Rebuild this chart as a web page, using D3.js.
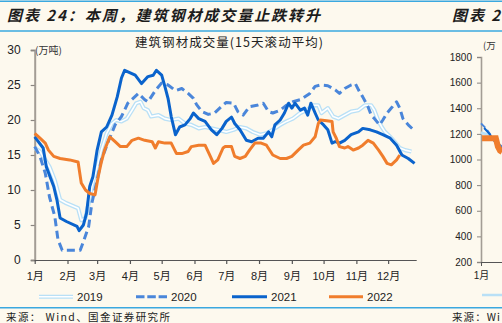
<!DOCTYPE html>
<html><head><meta charset="utf-8">
<script src="https://cdn.jsdelivr.net/npm/d3@7"></script>
<style>
html,body{margin:0;padding:0;background:#FDF9EE;}
svg{display:block}
</style></head><body>
<svg id="c" width="502" height="323"></svg>
<script>
// ---------- data ----------
const monthLabels = ["1月","2月","3月","4月","5月","6月","7月","8月","9月","10月","11月","12月"];
const monthStartDays = [0,31,59,90,120,151,181,212,243,273,304,334];
const yTicks = [0,5,10,15,20,25,30];
const seriesNames = ["2019","2020","2021","2022"];

const days2019 = [0,5,10,14,19,24,30,41,44,48,51,54,59,63,68,73,77,82,87,92,96,100,103,107,110,117,123,129,136,142,148,155,161,167,173,181,188,194,200,206,213,219,225,232,238,244,251,257,263,268,271,277,282,287,293,299,306,312,318,321,325,328,331,336,340,345,350,356];
const vals2019 = [16,15.5,14.3,13.3,11.4,8.6,8.1,7.4,5.7,6,8.1,10.5,13.3,15.7,18.1,19.5,20,19.8,20.2,21.4,22.4,22.6,21.7,21.4,20.5,20.7,20.2,20,20.2,19.5,19.3,18.8,19,18.8,18.6,18.3,18.6,19,18.8,18.3,17.9,18.1,18.6,19.3,19.8,20.2,21,21.4,22.1,22.1,21,21.7,20.5,20.2,20.7,21.2,21.4,22.1,22.1,21.4,19.8,19,18.3,17.6,16.9,16,15.7,15.5];

const days2020 = [0,5,10,14,19,22,26,43,46,51,54,59,63,70,76,82,88,98,104,107,114,120,126,133,139,145,150,153,158,164,170,177,181,188,192,197,203,210,216,221,225,232,238,244,251,255,260,265,270,277,284,288,293,299,303,306,310,315,318,321,326,329,333,337,342,345,348,353,358];
const vals2020 = [16.2,14.8,12.4,9,6.2,2.9,1.4,1.4,2.6,4.8,8.1,11.4,14.3,17.1,19.3,20.5,22.4,23.8,22.9,22.6,24.2,25.3,25,24.2,24.5,23.8,23.1,22.2,21.2,20.8,21,22,22.5,22.4,21.2,20.7,21.9,22.1,22.4,21.2,21,21.4,22.1,22.6,22.9,23.3,23.8,24.8,25,24.9,24.3,23.8,24.5,25,25.2,24.3,23.3,21.9,20.7,20.2,19.3,20,21,21.7,22.6,21.7,20.2,19.3,18.6];

const days2021 = [0,8,11,18,21,24,30,40,42,46,49,52,55,59,63,68,73,78,82,85,95,101,107,112,115,120,123,126,129,133,137,142,147,150,155,161,167,172,177,181,186,189,194,200,205,211,216,221,224,227,232,236,240,243,246,251,255,258,261,265,268,273,277,281,284,288,293,299,306,310,317,323,329,336,342,347,353,359];
const vals2021 = [17.6,16,13.3,10.5,8.6,6,5.5,4.8,4.2,5,6.7,10.5,11.9,15.7,18.3,19,20.7,23.3,26,27.1,26.4,25.2,26.2,26.4,27.1,26.4,24.8,23.1,20.5,17.9,19,19.3,20.2,21,20.2,19.8,18.6,17.9,18.8,19.8,20.4,19.5,18.6,17.1,16.9,17.4,17.4,18.3,17.6,19.3,20,21,22.4,21.7,22.4,21.4,21.7,20.7,22.4,21,20,19.3,18.6,16.7,16.9,16.7,17.1,17.9,18.3,18.8,18.6,18.3,17.9,17.4,16.4,15,14.5,13.8];

const days2022 = [0,5,10,13,18,24,33,41,44,48,52,57,60,63,66,71,76,81,87,92,98,104,111,114,117,123,129,134,139,145,148,155,161,166,169,173,178,180,186,189,194,199,203,208,214,219,225,232,238,243,249,254,260,265,268,270,276,281,282,285,288,293,296,301,306,310,315,320,325,329,333,337,342,345];
const vals2022 = [18.1,17.4,16.7,15.7,14.8,14.5,14.3,14,11,10,9.5,9.3,11.9,14,15.7,17.6,16.9,16.2,16.2,17.1,17.4,17.1,16.9,16,16.9,16.7,16.7,15.2,15.2,15.5,16.2,16.4,16.4,14.8,13.8,14.3,16,16.2,16.2,14.8,14.5,14.8,15.7,16.7,16.7,16.4,15,14.5,14.5,14.8,15.7,16.4,16.7,17.6,19.5,20,19.9,19.8,18.3,17.4,16.2,16,16.2,15.7,16,16.4,17.1,16.7,15.7,14.8,13.8,13.6,14.3,15];

// partial neighbouring chart (cut off at the right edge)
const rightYTicks = [200,400,600,800,1000,1200,1400,1600,1800];
const rightDaysA = [0,5,10,15,20];      const rightValsA = [1282,1240,1180,1130,1100];   // dashed blue
const rightDaysB = [3,8,12,17,20];      const rightValsB = [1246,1200,1150,1110,1080];   // solid blue
const rightDaysC = [1,14,16,18,20];     const rightValsC = [1165,1165,1100,1070,1060];   // orange
const rightDaysD = [0,4,8];             const rightValsD = [1210,1200,1190];             // light blue

// ---------- drawing ----------
const BG = "#FDF9EE";
const C19 = "#B9E0F6", C20 = "#4A86DA", C21 = "#0A63CC", C22 = "#F07D2C";
const SEP = "#3AA8DF";
const FONT = "'Liberation Sans','Noto Sans CJK SC',sans-serif";
const CJK = "'Noto Sans CJK SC',sans-serif";

const svg = d3.select("#c");
svg.append("rect").attr("width",502).attr("height",323).attr("fill",BG);

// separators
[1.2, 31, 307.7].forEach(y=>{
  svg.append("line").attr("x1",0).attr("x2",502).attr("y1",y).attr("y2",y)
    .attr("stroke",SEP).attr("stroke-width",1.5);
});

// titles
svg.append("text").attr("x",7).attr("y",21).attr("font-family",CJK)
  .attr("font-size",15).attr("font-style","italic").attr("font-weight","bold")
  .attr("fill","#1c1c1c").attr("textLength",313).attr("lengthAdjust","spacing")
  .text("图表 24：本周，建筑钢材成交量止跌转升");
svg.append("text").attr("x",452).attr("y",21).attr("font-family",CJK)
  .attr("font-size",15).attr("font-style","italic").attr("font-weight","bold")
  .attr("fill","#1c1c1c").attr("textLength",48).attr("lengthAdjust","spacing")
  .text("图表 2");

const x = d3.scaleLinear().domain([0,361]).range([34.7,416.7]);
const y = d3.scaleLinear().domain([0,30]).range([260,50]);

// chart title
svg.append("text").attr("x",135).attr("y",47).attr("font-family",CJK)
  .attr("font-size",12.5).attr("fill","#222").attr("textLength",188).attr("lengthAdjust","spacing")
  .text("建筑钢材成交量(15天滚动平均)");
svg.append("text").attr("x",35).attr("y",53.5).attr("font-family",CJK)
  .attr("font-size",10).attr("fill","#333").text("(万吨)");

// axes
const yAxis = svg.append("g").attr("transform","translate(34.7,0)")
  .call(d3.axisLeft(y).tickValues(yTicks).tickSize(4).tickPadding(10).tickFormat(d3.format("d")));
yAxis.select(".domain").attr("stroke","#A39D95").attr("stroke-width",2);
yAxis.selectAll(".tick line").attr("stroke","#8a8580").attr("stroke-width",1.2);
yAxis.selectAll("text").attr("font-family",FONT).attr("font-size",12).attr("fill","#222");

const xAxis = svg.append("g").attr("transform","translate(0,260)")
  .call(d3.axisBottom(x).tickValues(monthStartDays).tickSize(4).tickPadding(8)
    .tickFormat((d,i)=>monthLabels[i]));
xAxis.select(".domain").attr("stroke","#555").attr("stroke-width",1.2)
  .attr("d",`M${x(0)},0.5H${x(361)}`);
xAxis.selectAll(".tick line").attr("stroke","#555").attr("stroke-width",1.2);
xAxis.selectAll("text").attr("font-family",FONT).attr("font-size",11).attr("fill","#222");

// series
const line = d3.line().x(d=>x(d[0])).y(d=>y(d[1]));
const zip = (a,b)=>a.map((d,i)=>[d,b[i]]);
const g = svg.append("g").attr("fill","none").attr("stroke-linejoin","round");

g.append("path").attr("d",line(zip(days2019,vals2019))).attr("stroke",C19).attr("stroke-width",4.2);
g.append("path").attr("d",line(zip(days2019,vals2019))).attr("stroke","#FFFFFF").attr("stroke-width",1.6);
g.append("path").attr("d",line(zip(days2020,vals2020))).attr("stroke",C20).attr("stroke-width",3)
  .attr("stroke-dasharray","8,4.5");
g.append("path").attr("d",line(zip(days2021,vals2021))).attr("stroke",C21).attr("stroke-width",3);
g.append("path").attr("d",line(zip(days2022,vals2022))).attr("stroke",C22).attr("stroke-width",3);

// legend
const legY = 296.7;
const leg = svg.append("g");
const legItems = [
  {name:seriesNames[0], x1:39,  x2:73},
  {name:seriesNames[1], x1:136, x2:167},
  {name:seriesNames[2], x1:232, x2:267},
  {name:seriesNames[3], x1:329, x2:363}
];
legItems.forEach((it,i)=>{
  if(i===0){
    leg.append("line").attr("x1",it.x1).attr("x2",it.x2).attr("y1",legY).attr("y2",legY).attr("stroke",C19).attr("stroke-width",4);
    leg.append("line").attr("x1",it.x1).attr("x2",it.x2).attr("y1",legY).attr("y2",legY).attr("stroke","#fff").attr("stroke-width",1.5);
  } else {
    const ln = leg.append("line").attr("x1",it.x1).attr("x2",it.x2).attr("y1",legY).attr("y2",legY)
      .attr("stroke",[C19,C20,C21,C22][i]).attr("stroke-width",3);
    if(i===1) ln.attr("stroke-dasharray","8.5,2.8");
  }
  leg.append("text").attr("x",it.x2+4).attr("y",legY+4).attr("font-family",FONT).attr("font-size",11.5)
    .attr("fill","#222").text(it.name);
});

// source
svg.append("text").attr("x",6).attr("y",321).attr("font-family",CJK).attr("font-size",10.5)
  .attr("fill","#222").attr("textLength",164).attr("lengthAdjust","spacing").text("来源： Wind、国金证券研究所");

// ---------- partial right chart ----------
const rx = d3.scaleLinear().domain([0,361]).range([481,863]);
const ry = d3.scaleLinear().domain([200,1800]).range([262,57]);
const rAxis = svg.append("g").attr("transform","translate(481,0)")
  .call(d3.axisLeft(ry).tickValues(rightYTicks).tickSize(4).tickPadding(5).tickFormat(d3.format("d")));
rAxis.select(".domain").attr("stroke","#A39D95").attr("stroke-width",1.6);
rAxis.selectAll(".tick line").attr("stroke","#8a8580");
rAxis.selectAll("text").attr("font-family",FONT).attr("font-size",10).attr("fill","#222");
const rxAxis = svg.append("g").attr("transform","translate(0,262)")
  .call(d3.axisBottom(rx).tickValues([0]).tickSize(4).tickPadding(6).tickFormat(()=>monthLabels[0]));
rxAxis.select(".domain").attr("stroke","#555").attr("d","M481,0.5H502");
rxAxis.selectAll(".tick line").attr("stroke","#555");
rxAxis.selectAll("text").attr("font-family",FONT).attr("font-size",10).attr("fill","#222");
svg.append("text").attr("x",483).attr("y",49).attr("font-family",CJK).attr("font-size",9.5).attr("fill","#333").text("(万");

const rline = d3.line().x(d=>rx(d[0])).y(d=>ry(d[1]));
const rg = svg.append("g").attr("fill","none");
rg.append("path").attr("d",rline(zip(rightDaysD,rightValsD))).attr("stroke",C19).attr("stroke-width",3);
rg.append("path").attr("d",rline(zip(rightDaysA,rightValsA))).attr("stroke",C20).attr("stroke-width",2).attr("stroke-dasharray","6,3");
rg.append("path").attr("d",rline(zip(rightDaysB,rightValsB))).attr("stroke",C21).attr("stroke-width",2);
rg.append("path").attr("d",rline(zip(rightDaysC,rightValsC))).attr("stroke",C22).attr("stroke-width",6);
svg.append("line").attr("x1",482).attr("x2",502).attr("y1",295).attr("y2",295).attr("stroke",C19).attr("stroke-width",2.5);
svg.append("text").attr("x",452).attr("y",321).attr("font-family",CJK).attr("font-size",10.5)
  .attr("fill","#222").attr("textLength",48).attr("lengthAdjust","spacing").text("来源：Wi");
</script>
</body></html>
